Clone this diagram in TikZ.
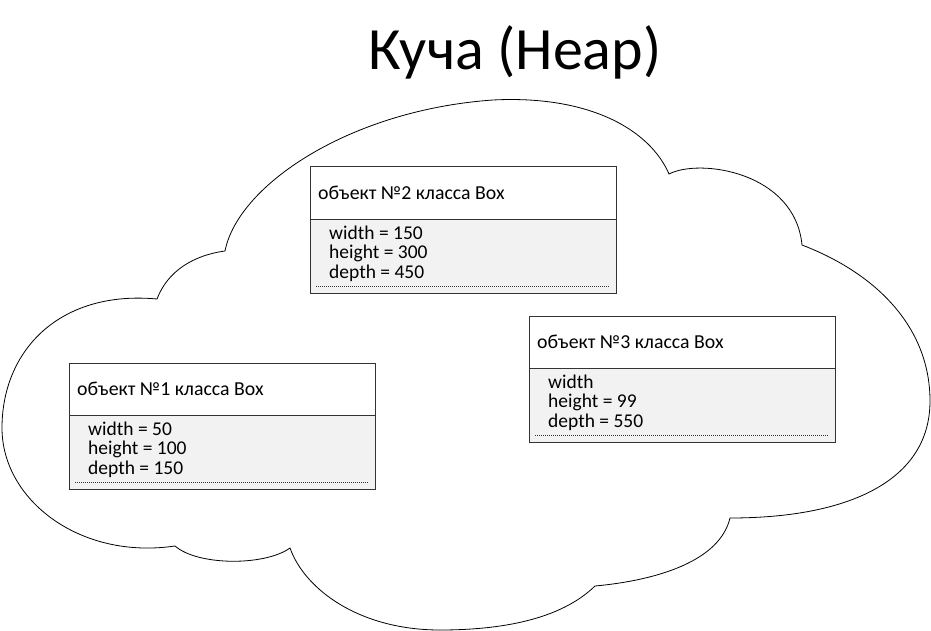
\documentclass[tikz,border=0pt]{standalone}
\usepackage{fontspec}
\setmainfont{Carlito}
\definecolor{bodyfill}{HTML}{F2F2F2}
\definecolor{boxline}{HTML}{333333}
\tikzset{
  boxhead/.style={draw=boxline, line width=1pt, fill=white, anchor=north west,
    minimum width=306pt, minimum height=52pt, inner sep=0pt, outer sep=0pt},
  boxbody/.style={draw=boxline, line width=1pt, fill=bodyfill, anchor=north west,
    minimum width=306pt, minimum height=74pt, inner sep=0pt, outer sep=0pt},
  headtext/.style={anchor=base west, inner sep=0pt, font=\fontsize{19.8}{19.5}\selectfont},
  bodytext/.style={anchor=base west, inner sep=0pt, align=left, font=\fontsize{19.5}{19.5}\selectfont},
  dotline/.style={draw=boxline, line width=0.8pt, dash pattern=on 1pt off 1pt},
  cloudline/.style={draw=black, line width=0.8pt},
  titletext/.style={anchor=base, inner sep=0pt, font=\fontsize{60}{72}\selectfont}
}
\newcommand{\objbox}[5]{%
  \node[boxhead] (#1h) at (#2,#3) {};
  \node[boxbody] (#1b) at (#1h.south west) {};
  \node[headtext] (#1t) at ([xshift=8pt,yshift=-32.5pt]#1h.north west) {#4};
  \node[bodytext] (#1l) at ([xshift=19pt,yshift=-59pt]#1b.north west) {#5};
  \coordinate (#1d1) at ([xshift=6pt,yshift=7pt]#1b.south west);
  \coordinate (#1d2) at ([xshift=-6pt,yshift=7pt]#1b.south east);
  \draw[dotline] (#1d1) -- (#1d2);
}
\begin{document}
\begin{tikzpicture}[x=1pt,y=-1pt]
\useasboundingbox (0,0) rectangle (931,631);
% cloud
\draw[cloudline] (225,251)
  .. controls (238,185) and (350,110) .. (493,100)
  .. controls (590,95) and (650,130) .. (669,174)
  .. controls (700,158) and (795,172) .. (802,245)
  .. controls (880,275) and (930,330) .. (930,401)
  .. controls (930,480) and (850,518) .. (730,518)
  .. controls (720,560) and (660,580) .. (595,586)
  .. controls (560,620) and (500,630) .. (440,630)
  .. controls (360,630) and (305,590) .. (290,548)
  .. controls (265,566) and (198,566) .. (175,546)
  .. controls (80,560) and (2,500) .. (2,428)
  .. controls (2,350) and (60,290) .. (157,299)
  .. controls (168,270) and (195,255) .. (225,251);
% title
\node[titletext] (title) at (515,70) {Куча (Heap)};
% boxes
\objbox{a}{310}{167}{объект №2 класса Box}{width = 150\\height = 300\\depth = 450}
\objbox{b}{69}{363}{объект №1 класса Box}{width = 50\\height = 100\\depth = 150}
\objbox{c}{529}{316}{объект №3 класса Box}{width\\height = 99\\depth = 550}
\end{tikzpicture}
\end{document}
